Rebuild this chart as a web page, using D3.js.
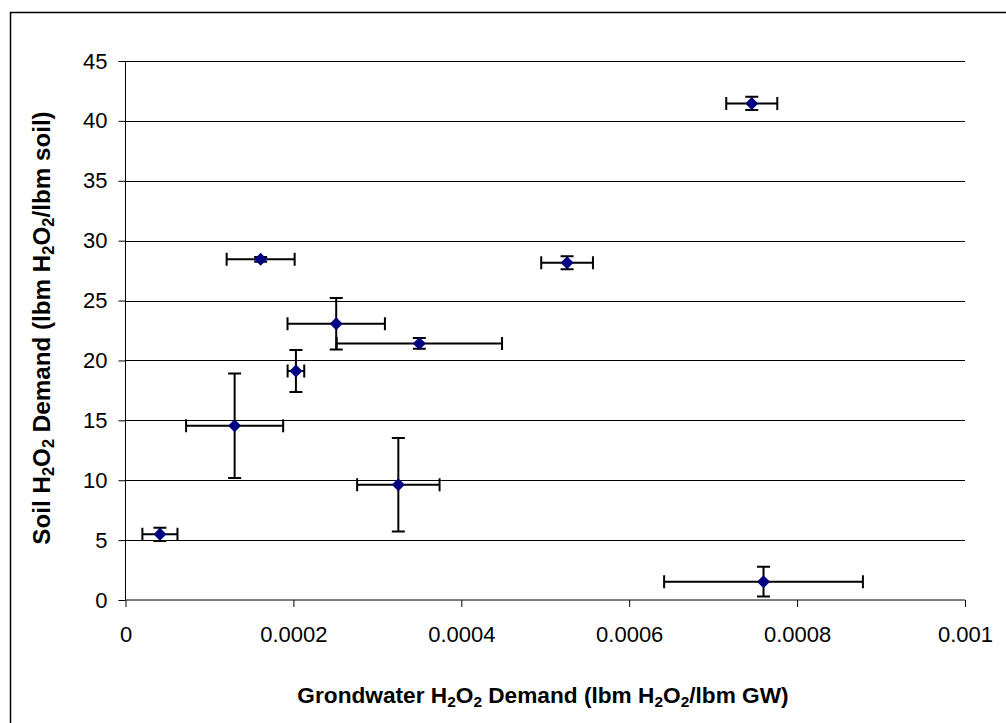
<!DOCTYPE html>
<html>
<head>
<meta charset="utf-8">
<script src="https://cdn.jsdelivr.net/npm/d3@7"></script>
<style>
  html, body { margin: 0; padding: 0; background: #fff; }
  svg { display: block; font-family: "Liberation Sans", Arial, sans-serif; }
</style>
</head>
<body>
<svg id="chart" width="1006" height="723"></svg>
<script>
// Data
const gwDemand   = [0.000041, 0.000130, 0.000203, 0.000251, 0.000350, 0.000526, 0.000161, 0.000325, 0.000746, 0.000760];
const gwError    = [0.0000209, 0.0000578, 0.0000099, 0.0000580, 0.0000985, 0.0000308, 0.0000405, 0.0000491, 0.0000304, 0.0001184];
const soilDemand = [5.48, 14.55, 19.12, 23.07, 21.42, 28.15, 28.44, 9.62, 41.46, 1.53];
const soilError  = [0.56, 4.37, 1.75, 2.15, 0.45, 0.54, 0.2, 3.9, 0.56, 1.24];
const xTicks = [0, 0.0002, 0.0004, 0.0006, 0.0008, 0.001];
const xTickLabels = ["0", "0.0002", "0.0004", "0.0006", "0.0008", "0.001"];
const yTicks = [0, 5, 10, 15, 20, 25, 30, 35, 40, 45];

const svg = d3.select("#chart");
const pLeft = 125.5, pRight = 965, pTop = 61, pBottom = 600;

const x = d3.scaleLinear().domain([0, 0.001]).range([pLeft, pRight]);
const y = d3.scaleLinear().domain([0, 45]).range([pBottom, pTop]);

// outer frame (extends past the picture on right/bottom)
svg.append("rect")
  .attr("x", 10.5).attr("y", 12.5)
  .attr("width", 1010).attr("height", 720)
  .attr("fill", "none").attr("stroke", "#000").attr("stroke-width", 1.5);

// gridlines
svg.append("g")
  .selectAll("line")
  .data(yTicks.filter(d => d > 0))
  .join("line")
  .attr("x1", pLeft).attr("x2", pRight)
  .attr("y1", d => Math.round(y(d)) + 0.5).attr("y2", d => Math.round(y(d)) + 0.5)
  .attr("stroke", "#000").attr("stroke-width", 1);

// y axis
const yAxis = d3.axisLeft(y).tickValues(yTicks).tickSize(7).tickPadding(11).tickFormat(d3.format("d"));
const gy = svg.append("g").attr("transform", `translate(${pLeft},0)`).call(yAxis);
gy.attr("font-size", 22).attr("font-family", "Liberation Sans, Arial, sans-serif");
gy.select(".domain").attr("stroke", "#000").attr("d", `M0,${pTop}V${pBottom}`);
gy.selectAll(".tick line").attr("stroke", "#000");
gy.selectAll(".tick text").attr("fill", "#000");

// x axis
const xAxis = d3.axisBottom(x).tickValues(xTicks).tickSize(7).tickPadding(19)
  .tickFormat((d, i) => xTickLabels[i]);
const gx = svg.append("g").attr("transform", `translate(0,${pBottom})`).call(xAxis);
gx.attr("font-size", 22).attr("font-family", "Liberation Sans, Arial, sans-serif");
gx.select(".domain").attr("stroke", "#000").attr("d", `M${pLeft},0H${pRight}`);
gx.selectAll(".tick line").attr("stroke", "#000");
gx.selectAll(".tick text").attr("fill", "#000");

// error bars
const pts = gwDemand.map((g, i) => ({ gx: g, ge: gwError[i], sy: soilDemand[i], se: soilError[i] }));
const cap = 6.5;
const eb = svg.append("g").attr("stroke", "#000").attr("stroke-width", 2).attr("fill", "none");
pts.forEach(p => {
  const cx = x(p.gx), cy = y(p.sy);
  const x0 = x(p.gx - p.ge), x1 = x(p.gx + p.ge);
  const y0 = y(p.sy - p.se), y1 = y(p.sy + p.se);
  eb.append("path").attr("d",
    `M${x0},${cy}H${x1}M${x0},${cy - cap}V${cy + cap}M${x1},${cy - cap}V${cy + cap}` +
    `M${cx},${y0}V${y1}M${cx - cap},${y0}H${cx + cap}M${cx - cap},${y1}H${cx + cap}`);
});

// markers
svg.append("g")
  .selectAll("path")
  .data(pts)
  .join("path")
  .attr("transform", d => `translate(${x(d.gx)},${y(d.sy)})`)
  .attr("d", "M0,-6.5L6.5,0L0,6.5L-6.5,0Z")
  .attr("fill", "#000080");

// axis titles with subscripts
function addSubText(t, parts, fs) {
  let shifted = false;
  parts.forEach(([s, sub]) => {
    const sp = t.append("tspan").text(s);
    if (sub) {
      sp.attr("font-size", Math.round(fs * 0.68)).attr("dy", shifted ? 0 : 4);
      shifted = true;
    } else {
      if (shifted) sp.attr("dy", -4);
      shifted = false;
    }
  });
}
function fitFont(t, fs, target) {
  const len = t.node().getComputedTextLength();
  const nf = fs * target / len;
  t.attr("font-size", nf);
  t.selectAll("tspan").each(function () {
    const s = d3.select(this);
    if (s.attr("font-size")) s.attr("font-size", nf * 0.68);
  });
}
const titleParts = [["Grondwater H"], ["2", true], ["O"], ["2", true], [" Demand (lbm H"], ["2", true], ["O"], ["2", true], ["/lbm GW)"]];
const xt = svg.append("text")
  .attr("x", 543).attr("y", 703)
  .attr("text-anchor", "middle").attr("font-weight", "bold").attr("font-size", 21);
addSubText(xt, titleParts, 21);
fitFont(xt, 21, 491);

const yParts = [["Soil H"], ["2", true], ["O"], ["2", true], [" Demand (lbm H"], ["2", true], ["O"], ["2", true], ["/lbm soil)"]];
const yt = svg.append("text")
  .attr("transform", `translate(50,328) rotate(-90)`)
  .attr("text-anchor", "middle").attr("font-weight", "bold").attr("font-size", 21);
addSubText(yt, yParts, 21);
fitFont(yt, 21, 433);
</script>
</body>
</html>
